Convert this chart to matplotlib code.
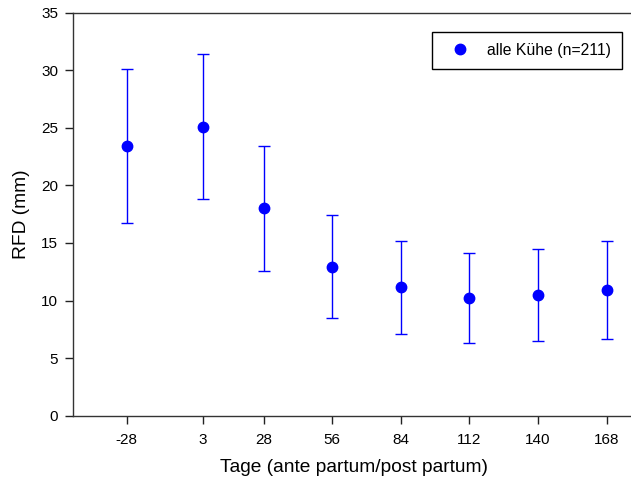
import numpy as np
import matplotlib.pyplot as plt
from matplotlib.lines import Line2D

plt.rcParams['font.family'] = ['Liberation Sans', 'DejaVu Sans']

tage = [-28, 3, 28, 56, 84, 112, 140, 168]
rfd_mittel = [23.4, 25.1, 18.0, 12.9, 11.2, 10.2, 10.5, 10.9]
rfd_oben = [30.1, 31.4, 23.4, 17.4, 15.2, 14.1, 14.5, 15.2]
rfd_unten = [16.7, 18.8, 12.6, 8.5, 7.1, 6.3, 6.5, 6.7]

mittel = np.array(rfd_mittel)
fehler = [mittel - np.array(rfd_unten), np.array(rfd_oben) - mittel]

fig = plt.figure(figsize=(6.31, 4.86), dpi=100)
ax = fig.add_axes([72.7 / 631, 70.3 / 486, 563.3 / 631, 403 / 486])

ax.errorbar(tage, rfd_mittel, yerr=fehler, fmt='o', color='#0000ff',
            ecolor='#0000ff', elinewidth=1, capsize=4.5, capthick=1,
            markersize=7.5)

ax.set_xlim(-50, 180)
ax.set_ylim(0, 35)
ax.set_xticks(tage)
ax.set_xticklabels([str(t) for t in tage])
ax.set_yticks(np.arange(0, 36, 5))
ax.tick_params(direction='out', length=6, width=1, labelsize=11, color='#222222')
ax.tick_params(axis='x', pad=6.3)
ax.tick_params(axis='y', pad=4.5)
for s in ax.spines.values():
    s.set_linewidth(1)
    s.set_color('#333333')
ax.spines['right'].set_visible(False)

ax.set_xlabel('Tage (ante partum/post partum)', fontsize=13.8, labelpad=9)
ax.set_ylabel('RFD (mm)', fontsize=13.8, labelpad=8)

griff = Line2D([], [], linestyle='none', marker='o', color='#0000ff', markersize=7.5)
leg = ax.legend([griff], ['alle Kühe (n=211)'], loc='upper right',
                bbox_to_anchor=(622.3 / 631, 1 - 31.7 / 486), bbox_transform=fig.transFigure,
                fontsize=11.3, fancybox=False, framealpha=1, edgecolor='black',
                handlelength=2.2, handletextpad=0.66, borderpad=0.7, borderaxespad=0)
leg.get_frame().set_linewidth(1)

fig.savefig('out.png', dpi=100)
